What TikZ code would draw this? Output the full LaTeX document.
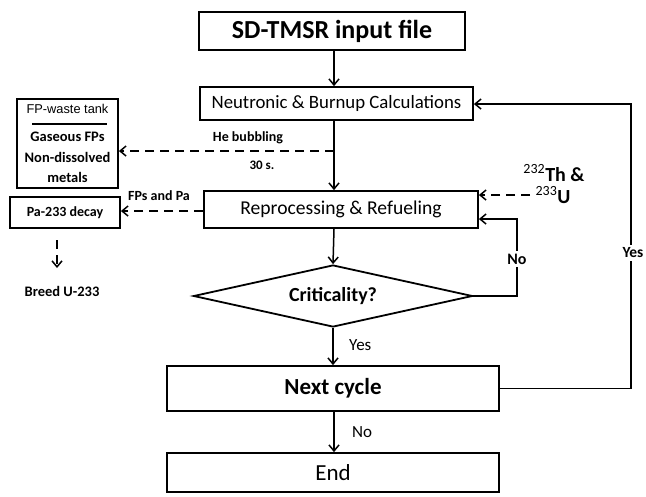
\documentclass[tikz,border=0pt]{standalone}
\usepackage{fontspec}
\setmainfont{Carlito}
\newfontfamily\arialf{Liberation Sans}
\usetikzlibrary{arrows.meta,shapes.geometric}
\begin{document}
\begin{tikzpicture}[x=1pt,y=-1pt,
  box/.style={draw,line width=1.8pt,inner sep=0pt},
  conn/.style={line width=1.5pt,-{Straight Barb[length=6pt,width=10pt,line width=1.5pt]}},
  dconn/.style={conn,dash pattern=on 9pt off 6pt},
  lab/.style={font=\bfseries\fontsize{14}{16}\selectfont,inner sep=1pt}]
\useasboundingbox (0,0) rectangle (646,496);
\node[box,minimum width=266pt,minimum height=38pt,font=\bfseries\fontsize{26}{28}\selectfont] (sd) at (332,31) {SD-TMSR input file};
\node[box,minimum width=273pt,minimum height=33pt,font=\fontsize{18.8}{20}\selectfont] (neu) at (336.5,103.5) {Neutronic \& Burnup Calculations};
\node[box,minimum width=274pt,minimum height=37pt,font=\fontsize{19.6}{21}\selectfont] (rep) at (341,209.5) {Reprocessing \& Refueling};
\node[draw,line width=1.8pt,diamond,aspect=4.5,minimum width=279pt,minimum height=62pt,inner sep=0pt,font=\bfseries\fontsize{20}{22}\selectfont] (dia) at (333,296) {Criticality?};
\node[box,minimum width=332pt,minimum height=45pt,font=\bfseries\fontsize{23}{25}\selectfont] (nxt) at (333,388.5) {Next cycle};
\node[box,minimum width=332pt,minimum height=39pt,font=\fontsize{23}{25}\selectfont] (fin) at (333,472.5) {End};
\node[box,minimum width=101pt,minimum height=89pt] (fp) at (67.5,143.5) {};
\node[inner sep=0pt,font=\arialf\fontsize{12.8}{14}\selectfont] (fpt) at (67.5,109) {FP-waste tank};
\node[lab,align=center,font=\bfseries\fontsize{14.5}{20.5}\selectfont] (fpc) at (67.5,157.5) {Gaseous FPs\\Non-dissolved\\metals};
\draw[line width=1.5pt] (32,124) coordinate (ul) -- (107,124) coordinate (ur);
\node[box,minimum width=110pt,minimum height=31pt,font=\bfseries\fontsize{14}{16}\selectfont] (pa) at (65,212.5) {Pa-233 decay};
\node[lab,font=\bfseries\fontsize{14.5}{16}\selectfont] (breed) at (62,291) {Breed U-233};
\coordinate (pab) at (57,240);
\coordinate (pat) at (57,268);
\draw[dconn] (pab) -- (pat);
% main flow
\draw[conn] (sd.south -| 334,0) -- (neu.north -| 334,0);
\draw[conn] (neu.south -| 334,0) -- (rep.north -| 334,0);
\draw[conn] (rep.south -| 334,0) -- (dia.north);
\draw[conn] (dia.south) -- (nxt.north -| dia.south);
\draw[conn] (nxt.south -| 334,0) -- (fin.north -| 334,0);
\node[inner sep=1pt,anchor=west,font=\fontsize{17}{19}\selectfont] (yes1) at (348,345) {Yes};
\node[inner sep=1pt,anchor=west,font=\fontsize{17}{19}\selectfont] (no1) at (351,432) {No};
% He bubbling
\coordinate (hb) at (334,151);
\draw[dconn] (hb) -- (fp.east |- hb);
\node[lab] (hbl) at (248,138) {He bubbling};
\node[lab,font=\bfseries\fontsize{13}{15}\selectfont] (hbs) at (262,165) {30 s.};
% FPs and Pa
\draw[dconn] (rep.west |- 0,211) -- (pa.east |- 0,211);
\node[lab] (fpl) at (159,196) {FPs and Pa};
% Th & U
\coordinate (thc) at (530,195);
\draw[dconn] (thc) -- (rep.east |- thc);
\node[inner sep=0pt,font=\bfseries\fontsize{20}{22}\selectfont] (thl) at (554,173) {\textsuperscript{\mdseries 232}Th \&};
\node[inner sep=0pt,font=\bfseries\fontsize{20}{22}\selectfont] (ul2) at (553,195) {\textsuperscript{\mdseries 233}U};
% No loop
\draw[conn] (dia.east) -- (517,296) -- (517,219) -- (rep.east |- 0,219);
\node[lab,fill=white,inner sep=3pt,font=\bfseries\fontsize{16}{18}\selectfont] (nol) at (517,259) {No};
% Yes loop
\draw[conn] (nxt.east) -- (631,388.5) -- (631,104) -- (neu.east |- 0,104);
\node[lab,fill=white,inner sep=3pt,font=\bfseries\fontsize{15.5}{17}\selectfont] (yesl) at (633,253) {Yes};
\end{tikzpicture}
\end{document}
